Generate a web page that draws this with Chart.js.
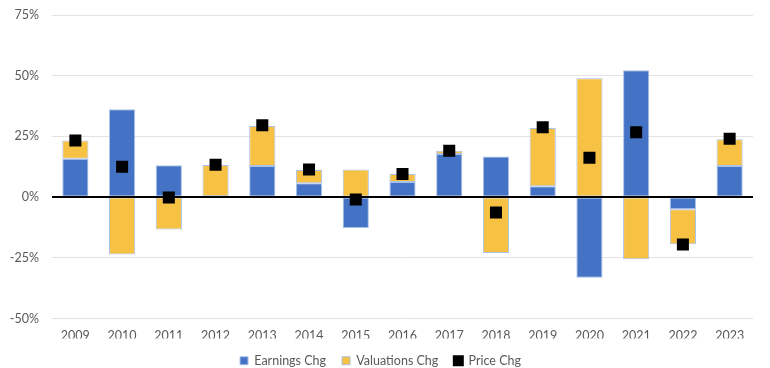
<!DOCTYPE html>
<html>
<head>
<meta charset="utf-8">
<script src="https://cdn.jsdelivr.net/npm/chart.js@4"></script>
<style>
  html, body { margin: 0; padding: 0; background: #fff; }
  #wrap { width: 770px; height: 368px; }
</style>
</head>
<body>
<div id="wrap"><canvas id="grafico"></canvas></div>
<script>
const anos = ['2009', '2010', '2011', '2012', '2013', '2014', '2015', '2016', '2017', '2018', '2019', '2020', '2021', '2022', '2023'];
const lucros = [15.8, 36.2, 13.1, 0.3, 12.8, 5.7, -12.7, 6.2, 17.8, 16.7, 4.5, -33.2, 52.2, -5.0, 12.8];
const valuations = [7.5, -23.6, -13.3, 12.9, 16.5, 5.5, 11.4, 3.3, 1.3, -23.0, 24.0, 48.9, -25.6, -14.4, 11.0];
const precos = [23.3, 12.5, -0.2, 13.3, 29.6, 11.4, -1.0, 9.5, 19.1, -6.3, 28.8, 16.2, 26.7, -19.5, 24.0];
const ticksY = [-50, -25, 0, 25, 50, 75];

const corTexto = '#595959';
const fonte = { family: 'Lato, "Open Sans", sans-serif', size: 12.5 };

// linha do zero por cima das barras
const linhaZero = {
    id: 'linhaZero',
    afterDatasetsDraw(chart) {
        const { ctx, chartArea, scales } = chart;
        const y = scales.y.getPixelForValue(0);
        ctx.save();
        ctx.strokeStyle = '#000';
        ctx.lineWidth = 2;
        ctx.beginPath();
        ctx.moveTo(chartArea.left, y);
        ctx.lineTo(chartArea.right, y);
        ctx.stroke();
        ctx.restore();
    }
};

new Chart(document.getElementById('grafico').getContext('2d'), {
    type: 'bar',
    data: {
        labels: anos,
        datasets: [{
            label: 'Earnings Chg',
            data: lucros,
            backgroundColor: '#4472c4',
            borderColor: '#a9c1e8',
            borderWidth: 1,
            borderSkipped: false,
            stack: 'barras',
            order: 2
        }, {
            label: 'Valuations Chg',
            data: valuations,
            backgroundColor: '#f7c143',
            borderColor: '#a9c1e8',
            borderWidth: 1,
            borderSkipped: false,
            stack: 'barras',
            order: 2
        }, {
            type: 'line',
            label: 'Price Chg',
            data: precos,
            showLine: false,
            pointStyle: 'rect',
            pointRadius: 8.5,
            pointHoverRadius: 8.5,
            pointBorderWidth: 0,
            backgroundColor: '#000',
            borderColor: '#000',
            stack: 'preco',
            order: 0
        }]
    },
    options: {
        responsive: true,
        maintainAspectRatio: false,
        animation: false,
        layout: { autoPadding: false, padding: { left: 8, right: 17, top: 15, bottom: -9 } },
        datasets: { bar: { barPercentage: 0.56, categoryPercentage: 1 } },
        scales: {
            x: {
                stacked: true,
                grid: { display: false, drawTicks: false },
                border: { display: false },
                afterFit: escala => { escala.height = 20; },
                ticks: { color: corTexto, font: fonte, padding: 10 }
            },
            y: {
                stacked: true,
                min: ticksY[0],
                max: ticksY[ticksY.length - 1],
                afterBuildTicks: escala => { escala.ticks = ticksY.map(v => ({ value: v })); },
                afterFit: escala => {
                    escala.width = 44;
                    escala.paddingTop = 0;
                    escala.paddingBottom = 0;
                },
                grid: { color: '#e3e3e3', drawTicks: false },
                border: { display: false },
                ticks: { color: corTexto, font: fonte, padding: 13, callback: v => v + '%' }
            }
        },
        plugins: {
            legend: {
                position: 'bottom',
                labels: {
                    color: corTexto, font: fonte, boxWidth: 8, boxHeight: 8, padding: 16,
                    sort: (a, b) => a.datasetIndex - b.datasetIndex
                }
            },
            tooltip: { enabled: false }
        }
    },
    plugins: [linhaZero]
});
</script>
</body>
</html>
